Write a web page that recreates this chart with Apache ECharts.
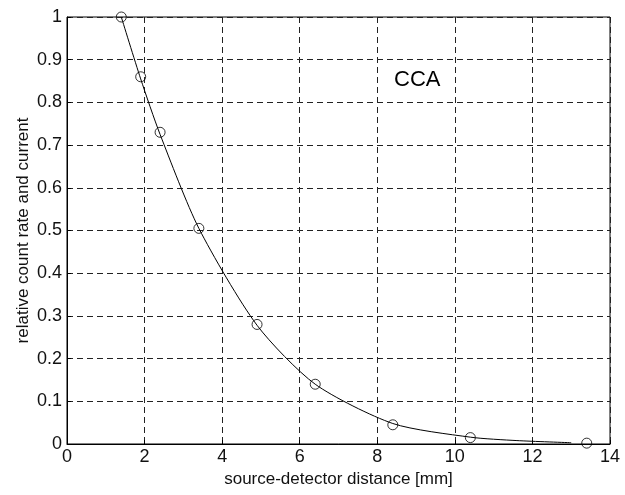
<!DOCTYPE html>
<html>
<head>
<meta charset="utf-8">
<script src="https://cdn.jsdelivr.net/npm/echarts@6/dist/echarts.min.js"></script>
<style>html,body{margin:0;padding:0;background:#fff}#c{width:625px;height:495px}</style>
</head>
<body>
<div id="c"></div>
<script>
// measured points (distance mm, relative value)
const distances = [1.4, 1.9, 2.4, 3.4, 4.9, 6.4, 8.4, 10.4, 13.4];
const relValues = [1.0, 0.86, 0.73, 0.505, 0.28, 0.14, 0.045, 0.015, 0.002];
// fitted curve
const curveX = [1.4, 1.9, 2.4, 3.4, 4.9, 6.4, 8.4, 10.4, 11.6, 13.0];
const curveY = [1.0, 0.855, 0.725, 0.505, 0.278, 0.14, 0.048, 0.016, 0.008, 0.003];
const xTicks = [0, 2, 4, 6, 8, 10, 12, 14];
const yTicks = [0, 0.1, 0.2, 0.3, 0.4, 0.5, 0.6, 0.7, 0.8, 0.9, 1];
const labelText = 'CCA';

const font = 'Liberation Sans, Arial, Helvetica, sans-serif';
const chart = echarts.init(document.getElementById('c'), null, {renderer: 'canvas'});
chart.setOption({
  animation: false,
  backgroundColor: '#fff',
  grid: {left: 67, right: 15, top: 17, bottom: 51, show: true, borderColor: '#000', borderWidth: 1},
  xAxis: {
    type: 'value', min: xTicks[0], max: xTicks[xTicks.length - 1], interval: 2,
    name: 'source-detector distance [mm]', nameLocation: 'middle', nameGap: 27,
    nameMoveOverlap: false,
    nameTextStyle: {fontFamily: font, fontSize: 17, color: '#111'},
    axisLine: {show: true, lineStyle: {color: '#000', width: 1}},
    axisTick: {show: true, inside: true, length: 4, lineStyle: {color: '#000'}},
    axisLabel: {fontFamily: font, fontSize: 18, color: '#111', margin: 4},
    splitLine: {show: true, lineStyle: {color: '#222', type: [6, 4], width: 1}}
  },
  yAxis: {
    type: 'value', min: yTicks[0], max: yTicks[yTicks.length - 1], interval: 0.1,
    name: 'relative count rate and current', nameLocation: 'middle', nameGap: 35,
    nameMoveOverlap: false,
    nameTextStyle: {fontFamily: font, fontSize: 17, color: '#111'},
    axisLine: {show: true, lineStyle: {color: '#000', width: 1}},
    axisTick: {show: true, inside: true, length: 4, lineStyle: {color: '#000'}},
    axisLabel: {fontFamily: font, fontSize: 18, color: '#111', margin: 5,
      formatter: v => String(Math.round(v * 10) / 10)},
    splitLine: {show: true, lineStyle: {color: '#222', type: [6, 4], width: 1}}
  },
  graphic: [{
    type: 'text', left: 394, top: 69,
    style: {text: labelText, fontFamily: font, fontSize: 22, fill: '#000'}
  }],
  series: [
    {
      type: 'line', data: curveX.map((x, i) => [x, curveY[i]]),
      showSymbol: false, smooth: 0.25,
      lineStyle: {color: '#000', width: 1}, z: 3
    },
    {
      type: 'scatter', data: distances.map((x, i) => [x, relValues[i]]),
      symbol: 'circle', symbolSize: 10,
      itemStyle: {color: 'rgba(0,0,0,0)', borderColor: '#000', borderWidth: 1}, z: 4
    }
  ]
});
</script>
</body>
</html>
